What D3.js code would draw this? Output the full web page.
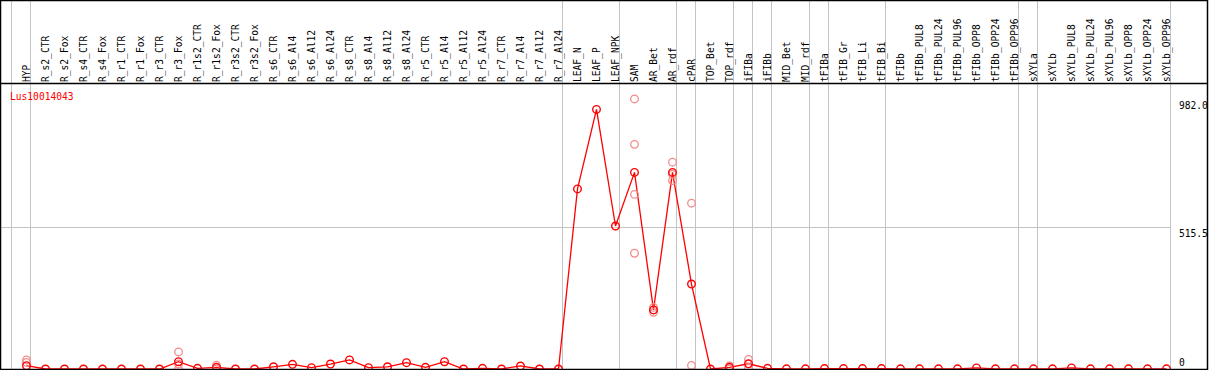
<!DOCTYPE html>
<html>
<head>
<meta charset="utf-8">
<script src="https://cdn.jsdelivr.net/npm/d3@7"></script>
<style>
  body { margin: 0; background: #fff; }
  text { font-family: "DejaVu Sans Mono", monospace; font-size: 9.6px; }
</style>
</head>
<body>
<div id="chart"></div>
<script>
const categories = [
  "HYP", "R_s2_CTR", "R_s2_Fox", "R_s4_CTR", "R_s4_Fox", "R_r1_CTR", "R_r1_Fox",
  "R_r3_CTR", "R_r3_Fox", "R_r1s2_CTR", "R_r1s2_Fox", "R_r3s2_CTR", "R_r3s2_Fox",
  "R_s6_CTR", "R_s6_Al4", "R_s6_Al12", "R_s6_Al24", "R_s8_CTR", "R_s8_Al4",
  "R_s8_Al12", "R_s8_Al24", "R_r5_CTR", "R_r5_Al4", "R_r5_Al12", "R_r5_Al24",
  "R_r7_CTR", "R_r7_Al4", "R_r7_Al12", "R_r7_Al24", "LEAF_N", "LEAF_P", "LEAF_NPK",
  "SAM", "AR_Bet", "AR_rdf", "cPAR", "TOP_Bet", "TOP_rdf", "iFIBa", "iFIBb",
  "MID_Bet", "MID_rdf", "tFIBa", "tFIB_Gr", "tFIB_Li", "tFIB_Bi", "tFIBb",
  "tFIBb_PUL8", "tFIBb_PUL24", "tFIBb_PUL96", "tFIBb_OPP8", "tFIBb_OPP24",
  "tFIBb_OPP96", "sXYLa", "sXYLb", "sXYLb_PUL8", "sXYLb_PUL24", "sXYLb_PUL96",
  "sXYLb_OPP8", "sXYLb_OPP24", "sXYLb_OPP96"
];

// mean expression per sample
const means = [
  12, 0, 0, 0, 0, 0, 0, 0, 26.5, 2.5, 6, 0, 0,
  8, 17, 5, 18, 33, 5, 8, 23, 6, 26.5, 0, 2.5, 0, 11, 0, 0,
  655, 944, 520, 715, 215, 715, 309,
  0, 6, 19, 2.5, 0.5, 0.5, 1.5, 1.5, 1.5, 1.5, 0.5, 0.5, 0.5, 0.5, 4, 0.5, 0.5,
  0.5, 0.5, 4, 0.5, 0.5, 0.5, 0.5, 0.5
];

// individual replicates (only samples where they differ visibly)
const replicates = [
  { name: "HYP", values: [33, 24] },
  { name: "R_r3_Fox", values: [62, 0, 18] },
  { name: "R_r1s2_Fox", values: [14, 0] },
  { name: "SAM", values: [982, 817, 635, 421] },
  { name: "AR_Bet", values: [206, 215, 224] },
  { name: "AR_rdf", values: [752, 685, 708] },
  { name: "cPAR", values: [603, 13] },
  { name: "TOP_rdf", values: [11, 0] },
  { name: "iFIBa", values: [35, 3] }
];

// group separators fall after these samples (null = before the first one)
const groupEnds = [null, "HYP", "R_r7_Al24", "LEAF_NPK", "AR_rdf", "cPAR", "TOP_rdf",
  "iFIBa", "iFIBb", "MID_rdf", "tFIBa", "tFIB_Bi", "tFIBb_OPP96", "sXYLa", "sXYLb_OPP96"];

const yTicks = [982, 515.5, 0];
const yTickLabels = ["982.0", "515.5", "0"];
const geneName = "Lus10014043";

const width = 1209;
const height = 370;
const headerBottom = 84;
const plotBottom = 369;
const rightEdge = 1207;

const svg = d3.select("#chart")
  .append("svg")
  .attr("width", width)
  .attr("height", height);

const x = d3.scalePoint()
  .domain(categories)
  .range([26.5, 1166.5]);

const step = x.step();

const y = d3.scaleLinear()
  .domain([0, 1031])
  .range([plotBottom, 85.5]);

// grey separators
svg.selectAll(".sep")
  .data(groupEnds)
  .join("line")
  .attr("class", "sep")
  .attr("x1", (d) => (d === null ? x(categories[0]) - step : x(d)) + 4)
  .attr("x2", (d) => (d === null ? x(categories[0]) - step : x(d)) + 4)
  .attr("y1", 0)
  .attr("y2", plotBottom)
  .attr("stroke", "#c4c4c4")
  .attr("stroke-width", 1)
  .attr("shape-rendering", "crispEdges");

// mid grid line
svg.append("line")
  .attr("x1", 1)
  .attr("x2", x(categories[categories.length - 1]) + 4)
  .attr("y1", y(yTicks[1]))
  .attr("y2", y(yTicks[1]))
  .attr("stroke", "#c4c4c4")
  .attr("shape-rendering", "crispEdges");

// sample labels
svg.selectAll(".sample")
  .data(categories)
  .join("text")
  .attr("class", "sample")
  .attr("transform", (d) => `translate(${x(d) + 3.5},${headerBottom - 2}) rotate(-90)`)
  .attr("fill", "#000")
  .text((d) => d);

// value labels
svg.selectAll(".ylab")
  .data(yTicks)
  .join("text")
  .attr("class", "ylab")
  .attr("x", 1179)
  .attr("y", (d) => Math.min(y(d) + 10, plotBottom - 3))
  .attr("fill", "#000")
  .text((d, i) => yTickLabels[i]);

svg.append("text")
  .attr("x", 10)
  .attr("y", 100)
  .attr("fill", "red")
  .text(geneName);

const meanData = categories.map((c, i) => ({ name: c, value: means[i] }));

const line = d3.line()
  .x((d) => x(d.name))
  .y((d) => y(d.value));

svg.append("path")
  .datum(meanData)
  .attr("d", line)
  .attr("fill", "none")
  .attr("stroke", "red")
  .attr("stroke-width", 1.3);

const repPoints = replicates.flatMap((r) => r.values.map((v) => ({ name: r.name, value: v })));

svg.selectAll(".rep")
  .data(repPoints)
  .join("circle")
  .attr("class", "rep")
  .attr("cx", (d) => x(d.name))
  .attr("cy", (d) => y(d.value))
  .attr("r", 3.8)
  .attr("fill", "none")
  .attr("stroke", "#f08c8c")
  .attr("stroke-width", 1.3);

svg.selectAll(".mean")
  .data(meanData)
  .join("circle")
  .attr("class", "mean")
  .attr("cx", (d) => x(d.name))
  .attr("cy", (d) => y(d.value))
  .attr("r", 3.8)
  .attr("fill", "none")
  .attr("stroke", "red")
  .attr("stroke-width", 1.4);

// black frame
const frame = [
  [0.5, 0.5, rightEdge + 0.5, 0.5],
  [0.5, headerBottom - 0.5, rightEdge + 0.5, headerBottom - 0.5],
  [0.5, plotBottom + 0.5, rightEdge + 0.5, plotBottom + 0.5],
  [0.5, 0, 0.5, height],
  [rightEdge + 0.5, 0, rightEdge + 0.5, height]
];
svg.selectAll(".frame")
  .data(frame)
  .join("line")
  .attr("class", "frame")
  .attr("x1", (d) => d[0])
  .attr("y1", (d) => d[1])
  .attr("x2", (d) => d[2])
  .attr("y2", (d) => d[3])
  .attr("stroke", "#000")
  .attr("stroke-width", 1.5);
</script>
</body>
</html>
